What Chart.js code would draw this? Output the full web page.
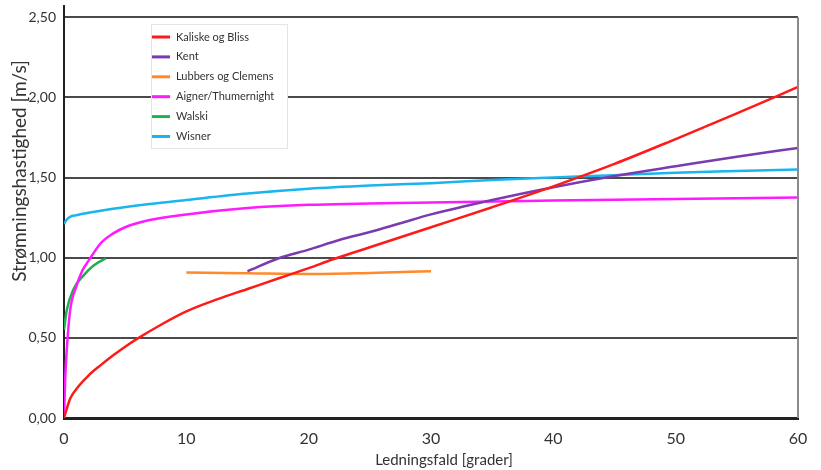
<!DOCTYPE html>
<html>
<head>
<meta charset="utf-8">
<script src="https://cdn.jsdelivr.net/npm/chart.js@4/dist/chart.umd.min.js"></script>
<style>
  html, body { margin: 0; padding: 0; background: #fff; }
  #wrap { width: 821px; height: 470px; }
</style>
</head>
<body>
<div id="wrap"><canvas id="chart" width="821" height="470"></canvas></div>
<script>
// ── Data ────────────────────────────────────────────────────────────────────

const kaliskeX = [0, 0.5, 1, 2, 3, 4, 5, 6, 8, 10, 12.5, 15, 17.5, 20, 22, 25, 30, 35, 40, 45, 50, 55, 60];
const kaliskeY = [0, 0.12, 0.18, 0.265, 0.33, 0.39, 0.445, 0.495, 0.585, 0.665, 0.74, 0.805, 0.87, 0.935, 0.99, 1.065, 1.19, 1.315, 1.445, 1.585, 1.74, 1.90, 2.065];

const kentX = [15, 17.5, 20, 22.5, 25, 27.5, 30, 35, 40, 45, 50, 55, 60];
const kentY = [0.915, 0.995, 1.05, 1.11, 1.16, 1.215, 1.27, 1.36, 1.44, 1.51, 1.57, 1.63, 1.685];

const lubbersX = [10, 15, 20, 25, 30];
const lubbersY = [0.908, 0.903, 0.898, 0.905, 0.915];

const aignerX = [0, 0.1, 0.22, 0.5, 1, 1.5, 2, 3, 4, 5, 7, 10, 15, 20, 30, 40, 50, 60];
const aignerY = [0, 0.25, 0.42, 0.67, 0.82, 0.92, 0.98, 1.09, 1.15, 1.19, 1.235, 1.27, 1.31, 1.33, 1.345, 1.356, 1.366, 1.375];

const walskiX = [0, 0.22, 0.76, 1.6, 2.4, 3.4];
const walskiY = [0.55, 0.67, 0.80, 0.89, 0.95, 0.995];

const wisnerX = [0, 0.25, 0.5, 1, 2, 4, 7, 10, 15, 20, 25, 30, 35, 40, 45, 50, 55, 60];
const wisnerY = [1.21, 1.24, 1.255, 1.265, 1.28, 1.305, 1.335, 1.36, 1.40, 1.43, 1.45, 1.465, 1.485, 1.50, 1.515, 1.53, 1.54, 1.55];

const seriesNames  = ['Kaliske og Bliss', 'Kent', 'Lubbers og Clemens', 'Aigner/Thumernight', 'Walski', 'Wisner'];
const seriesColors = ['#ff1a1a', '#7b3bb0', '#ff8a2a', '#ff1aff', '#1fb04f', '#1ab4ee'];

const xTicks = [0, 10, 20, 30, 40, 50, 60];
const yTicks = [0, 0.5, 1, 1.5, 2, 2.5];

const xTitle = 'Ledningsfald [grader]';
const yTitle = 'Strømningshastighed [m/s]';

// ── Helpers ────────────────────────────────────────────────────────────────

const FONT = 'Lato, "DejaVu Sans", sans-serif';
const toPoints = (xs, ys) => xs.map((x, i) => ({ x, y: ys[i] }));
const fmtY = (v) => v.toFixed(2).replace('.', ',');

const seriesData = [
  toPoints(kaliskeX, kaliskeY),
  toPoints(kentX, kentY),
  toPoints(lubbersX, lubbersY),
  toPoints(aignerX, aignerY),
  toPoints(walskiX, walskiY),
  toPoints(wisnerX, wisnerY),
];

// right border, axis titles and legend box drawn on the canvas
const decorations = {
  id: 'decorations',
  afterDraw(chart) {
    const { ctx, chartArea, scales } = chart;
    const top = scales.y.getPixelForValue(2.5);

    ctx.save();
    ctx.strokeStyle = '#8a8a8a';
    ctx.lineWidth = 2;
    ctx.beginPath();
    ctx.moveTo(chartArea.right, top);
    ctx.lineTo(chartArea.right, chartArea.bottom);
    ctx.stroke();

    ctx.fillStyle = '#333';
    ctx.textAlign = 'center';
    ctx.textBaseline = 'middle';

    // x title
    ctx.font = '15px ' + FONT;
    ctx.fillText(xTitle, 444, 460);

    // y title
    ctx.translate(20, 171);
    ctx.rotate(-Math.PI / 2);
    ctx.font = '19px ' + FONT;
    ctx.fillText(yTitle, 0, 0);
    ctx.restore();

    // legend
    const bx = 151, by = 24, bw = 136, bh = 124;
    ctx.save();
    ctx.fillStyle = '#fff';
    ctx.fillRect(bx, by, bw, bh);
    ctx.strokeStyle = '#e4e4e4';
    ctx.lineWidth = 1;
    ctx.strokeRect(bx + 0.5, by + 0.5, bw, bh);
    ctx.font = '11px ' + FONT;
    ctx.textBaseline = 'middle';
    seriesNames.forEach((name, i) => {
      const y = 37 + i * 19.9;
      ctx.strokeStyle = seriesColors[i];
      ctx.lineWidth = 3;
      ctx.beginPath();
      ctx.moveTo(152, y);
      ctx.lineTo(170, y);
      ctx.stroke();
      ctx.fillStyle = '#333';
      ctx.fillText(name, 176, y);
    });
    ctx.restore();
  },
};

// ── Chart ──────────────────────────────────────────────────────────────────

new Chart(document.getElementById('chart'), {
  type: 'scatter',
  data: {
    datasets: seriesNames.map((name, i) => ({
      label: name,
      data: seriesData[i],
      showLine: true,
      borderColor: seriesColors[i],
      backgroundColor: seriesColors[i],
      borderWidth: 2.5,
      pointRadius: 0,
      cubicInterpolationMode: 'monotone',
    })),
  },
  options: {
    responsive: false,
    animation: false,
    layout: { padding: { top: 6, right: 23, left: 0, bottom: 0 } },
    plugins: {
      legend: { display: false },
      tooltip: { enabled: false },
    },
    scales: {
      x: {
        type: 'linear',
        min: 0,
        max: 60,
        afterBuildTicks: (s) => { s.ticks = xTicks.map(v => ({ value: v })); },
        afterFit: (s) => { s.height = 52; },
        grid: { display: false, drawTicks: false },
        border: { color: '#222', width: 3 },
        ticks: { color: '#333', font: { family: FONT, size: 16 }, padding: 11 },
      },
      y: {
        type: 'linear',
        min: 0,
        max: 2.57,
        afterBuildTicks: (s) => { s.ticks = yTicks.map(v => ({ value: v })); },
        afterFit: (s) => { s.width = 64; s.paddingTop = 0; s.paddingBottom = 0; },
        grid: { color: '#4a4a4a', lineWidth: 2, drawTicks: false },
        border: { color: '#222', width: 2 },
        ticks: {
          color: '#333', font: { family: FONT, size: 14 }, padding: 8,
          callback: (v) => fmtY(v),
        },
      },
    },
  },
  plugins: [decorations],
});
</script>
</body>
</html>
